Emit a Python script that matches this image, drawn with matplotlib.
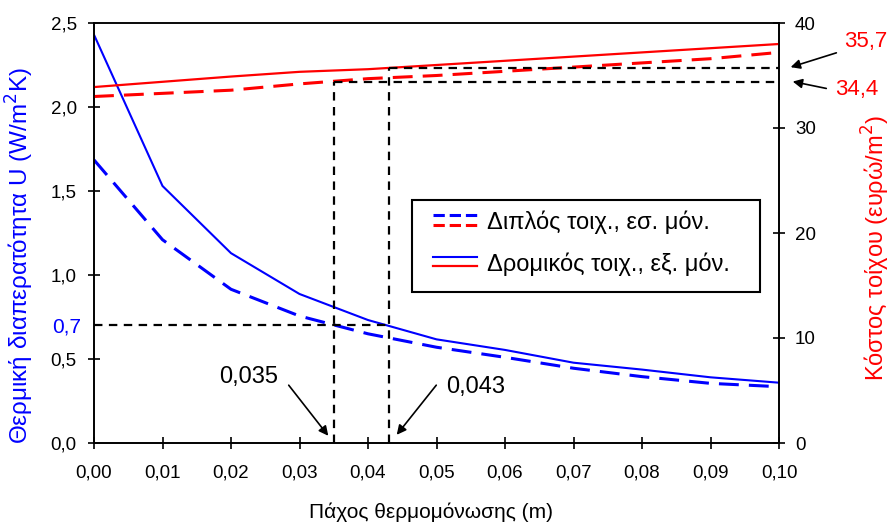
import numpy as np
import matplotlib
matplotlib.use('Agg')
import matplotlib.pyplot as plt
from matplotlib.lines import Line2D
from matplotlib.patches import Rectangle
from matplotlib.legend_handler import HandlerBase
from matplotlib.ticker import FuncFormatter

plt.rcParams['font.family'] = ['Liberation Sans', 'DejaVu Sans']

# ---------- data ----------
thickness = [0.00, 0.01, 0.02, 0.03, 0.04, 0.05, 0.06, 0.07, 0.08, 0.09, 0.10]
u_diplos = [1.685, 1.21, 0.915, 0.756, 0.65, 0.57, 0.51, 0.445, 0.395, 0.355, 0.335]
u_dromikos = [2.43, 1.53, 1.13, 0.887, 0.732, 0.617, 0.554, 0.478, 0.437, 0.391, 0.359]
cost_diplos = [33.0, 33.3, 33.6, 34.2, 34.7, 35.0, 35.4, 35.8, 36.2, 36.6, 37.2]
cost_dromikos = [33.9, 34.4, 34.9, 35.35, 35.6, 36.0, 36.4, 36.8, 37.2, 37.6, 38.0]

u_target = 0.7
opt_diplos = 0.035
opt_dromikos = 0.043
cost_opt_diplos = 34.4
cost_opt_dromikos = 35.7

labels = ['Διπλός τοιχ., εσ. μόν.', 'Δρομικός τοιχ., εξ. μόν.']


class StackHandler(HandlerBase):
    # two lines stacked one above the other in the legend
    def create_artists(self, legend, orig_handle, xdescent, ydescent,
                       width, height, fontsize, trans):
        arts = []
        for i, h in enumerate(orig_handle):
            y = height * (0.85 - 0.55 * i) - ydescent
            ln = Line2D([-xdescent, -xdescent + width], [y, y],
                        color=h.get_color(), linestyle=h.get_linestyle(),
                        linewidth=h.get_linewidth())
            ln.set_transform(trans)
            arts.append(ln)
        return arts


def comma(fmt):
    return FuncFormatter(lambda v, p: (fmt % v).replace('.', ','))


W, H = 891, 524
fig = plt.figure(figsize=(W / 100, H / 100), dpi=100)
ax = fig.add_axes([94/W, 1-443/H, 685/W, 420/H])
ax2 = ax.twinx()

dash_style = (0, (6.5, 3.3))
ref_style = (0, (3.8, 2.9))

lb1, = ax.plot(thickness, u_diplos, color='#0000ff', lw=2.2, linestyle=dash_style)
lb2, = ax.plot(thickness, u_dromikos, color='#0000ff', lw=1.5)
lr1, = ax2.plot(thickness, cost_diplos, color='#ff0000', lw=2.2, linestyle=dash_style)
lr2, = ax2.plot(thickness, cost_dromikos, color='#ff0000', lw=1.6)

# reference lines
ax.plot([0, opt_dromikos], [u_target, u_target], color='black', lw=1.6, linestyle=ref_style)
ax2.plot([opt_diplos, opt_diplos], [0, cost_opt_diplos], color='black', lw=1.6, linestyle=ref_style)
ax2.plot([opt_diplos, 0.10], [cost_opt_diplos, cost_opt_diplos], color='black', lw=1.6, linestyle=ref_style)
ax2.plot([opt_dromikos, opt_dromikos], [0, cost_opt_dromikos], color='black', lw=1.6, linestyle=ref_style)
ax2.plot([opt_dromikos, 0.10], [cost_opt_dromikos, cost_opt_dromikos], color='black', lw=1.6, linestyle=ref_style)

ax.set_xlim(0, 0.10)
ax.set_ylim(0, 2.5)
ax2.set_ylim(0, 40)
ax.set_xticks(np.arange(0, 0.1001, 0.01))
ax.set_yticks(np.arange(0, 2.51, 0.5))
ax2.set_yticks(np.arange(0, 41, 10))
ax.xaxis.set_major_formatter(comma('%.2f'))
ax.yaxis.set_major_formatter(comma('%.1f'))
ax2.yaxis.set_major_formatter(FuncFormatter(lambda v, p: '%d' % v))

for a in (ax, ax2):
    a.tick_params(direction='inout', length=9, width=1.2, labelsize=13.5)
    for s in a.spines.values():
        s.set_linewidth(1.2)
ax.tick_params(axis='x', pad=11)
ax.tick_params(axis='y', pad=8)
ax2.tick_params(axis='y', pad=7)
ax.spines['top'].set_color('#333333')

ax.set_xlabel('Πάχος θερμομόνωσης (m)', fontsize=15)
ax.xaxis.set_label_coords(0.492, -0.1405)
ax.set_ylabel('Θερμική διαπερατότητα U (W/m$^2$K)', fontsize=17.5, color='#0000ff')
ax.yaxis.set_label_coords(-0.084, 0.4476)
ax2.set_ylabel('Κόστος τοίχου (ευρώ/m$^2$)', fontsize=17, color='#ff0000')
ax2.yaxis.set_label_coords(1.118, 0.464)

# annotations
arrow = dict(arrowstyle='-|>', color='black', lw=1.2, mutation_scale=14)
fig.text(67/W, 1-327/H, '0,7', color='#0000ff', fontsize=15, ha='center', va='center')
fig.text(866/W, 1-41/H, '35,7', color='#ff0000', fontsize=16, ha='center', va='center')
fig.text(857/W, 1-90/H, '34,4', color='#ff0000', fontsize=16, ha='center', va='center')
ax.annotate('', xy=(788, H-68), xycoords='figure pixels',
            xytext=(839, H-52), textcoords='figure pixels', arrowprops=arrow)
ax.annotate('', xy=(790, H-81), xycoords='figure pixels',
            xytext=(829, H-89), textcoords='figure pixels', arrowprops=arrow)
fig.text(249/W, 1-377/H, '0,035', fontsize=17, ha='center', va='center')
fig.text(476/W, 1-387/H, '0,043', fontsize=17, ha='center', va='center')
ax.annotate('', xy=(330, H-438), xycoords='figure pixels',
            xytext=(287, H-383), textcoords='figure pixels', arrowprops=arrow)
ax.annotate('', xy=(395, H-437), xycoords='figure pixels',
            xytext=(438, H-383), textcoords='figure pixels', arrowprops=arrow)

# legend: white box drawn by hand, entries placed inside it
fig.add_artist(Rectangle((412/W, 1-292/H), 348/W, 92/H, transform=fig.transFigure,
                         facecolor='white', edgecolor='black', lw=1.5, zorder=4))
fig.legend([(lb1, lr1), (lb2, lr2)], labels, handler_map={tuple: StackHandler()},
           loc='upper left', bbox_to_anchor=(433/W, 1-211/H), fontsize=17,
           frameon=False, borderpad=0, borderaxespad=0,
           handlelength=1.85, handletextpad=0.45, labelspacing=0.78)

fig.savefig('out.png', dpi=100)
